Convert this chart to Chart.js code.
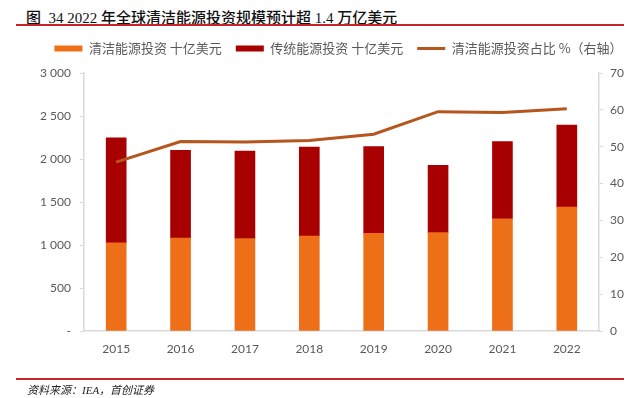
<!DOCTYPE html>
<html>
<head>
<meta charset="utf-8">
<script src="https://cdn.jsdelivr.net/npm/chart.js@4.4.0/dist/chart.umd.min.js"></script>
<style>
  body { margin:0; background:#fff; }
  #wrap { position:relative; width:641px; height:398px; overflow:hidden; }
  #title { position:absolute; left:26px; top:6px; font:500 15px "Liberation Serif","Noto Sans CJK SC",serif; color:#111; white-space:pre; }
  .rule { position:absolute; left:16px; width:608px; height:2px; background:#c8262a; }
  #src { position:absolute; left:27px; top:381px; font:italic 11px "Liberation Serif","Noto Sans CJK SC",serif; color:#222; white-space:nowrap; }
  canvas { position:absolute; left:0; top:0; }
</style>
</head>
<body>
<div id="wrap">
  <div id="title">图  34 2022 年全球清洁能源投资规模预计超 1.4 万亿美元</div>
  <div class="rule" style="top:24px"></div>
  <canvas id="myChart" width="641" height="398"></canvas>
  <div class="rule" style="top:378px"></div>
  <div id="src">资料来源：IEA，首创证券</div>
</div>
<script>
const years = ['2015','2016','2017','2018','2019','2020','2021','2022'];
const cleanInvest = [1025, 1080, 1075, 1105, 1135, 1143, 1305, 1440];
const fossilInvest = [1220, 1020, 1018, 1035, 1008, 784, 899, 954];
const cleanShare = [45.8, 51.4, 51.3, 51.7, 53.4, 59.5, 59.3, 60.3];

const fmtLeft = v => {
    if (v === 0) return '-';
    if (v >= 1000) return Math.floor(v/1000) + ' ' + String(v % 1000).padStart(3,'0');
    return String(v);
};

const gray = '#595959';
const axisGray = '#d9d9d9';
const tickFont = { family: 'Lato, "Noto Sans CJK SC", sans-serif', size: 12 };

// push the legend up a bit without moving the plot area
const legendGap = {
    id: 'legendGap',
    afterInit(chart) {
        const lg = chart.legend;
        const fit = lg.fit.bind(lg);
        lg.fit = function() { fit(); this.height += 8; };
    }
};

var ctx = document.getElementById('myChart').getContext('2d');
var myChart = new Chart(ctx, {
    type: 'bar',
    data: {
        labels: years,
        datasets: [{
            type: 'line',
            label: '清洁能源投资占比 %（右轴）',
            data: cleanShare,
            yAxisID: 'y1',
            borderColor: '#b5561f',
            backgroundColor: '#b5561f',
            borderWidth: 3,
            pointRadius: 0,
            pointStyle: 'line',
            tension: 0,
            order: 0
        }, {
            label: '清洁能源投资 十亿美元',
            data: cleanInvest,
            backgroundColor: '#ed6f18',
            barThickness: 20,
            pointStyle: 'rect',
            stack: 's',
            order: 1
        }, {
            label: '传统能源投资 十亿美元',
            data: fossilInvest,
            backgroundColor: '#a80000',
            barThickness: 20,
            pointStyle: 'rect',
            stack: 's',
            order: 1
        }]
    },
    plugins: [legendGap],
    options: {
        responsive: false,
        animation: false,
        layout: { padding: { top: 28, bottom: 37, left: 36, right: 0 } },
        plugins: {
            tooltip: { enabled: false },
            legend: {
                position: 'top',
                labels: {
                    usePointStyle: true,
                    pointStyleWidth: 28,
                    boxWidth: 28,
                    boxHeight: 6,
                    padding: 14,
                    color: gray,
                    font: { family: '"Noto Sans CJK SC", sans-serif', size: 13 },
                    sort: (a, b) => [1, 2, 0].indexOf(a.datasetIndex) - [1, 2, 0].indexOf(b.datasetIndex)
                }
            }
        },
        scales: {
            x: {
                stacked: true,
                grid: { display: false, drawTicks: false },
                border: { color: axisGray, width: 1.5 },
                ticks: { color: gray, font: tickFont, padding: 11 },
                afterFit: s => { s.height = 30; }
            },
            y: {
                stacked: true,
                min: 0, max: 3000,
                position: 'left',
                grid: { drawOnChartArea: false, tickLength: 4, color: axisGray },
                border: { color: axisGray, width: 1.5 },
                ticks: { stepSize: 500, color: gray, font: tickFont, padding: 9, callback: fmtLeft },
                afterFit: s => { s.width = 48; }
            },
            y1: {
                min: 0, max: 70,
                position: 'right',
                grid: { drawOnChartArea: false, tickLength: 4, color: axisGray },
                border: { color: axisGray, width: 1.5 },
                ticks: { stepSize: 10, color: gray, font: tickFont, padding: 7 },
                afterFit: s => { s.width = 42; }
            }
        }
    }
});
</script>
</body>
</html>
